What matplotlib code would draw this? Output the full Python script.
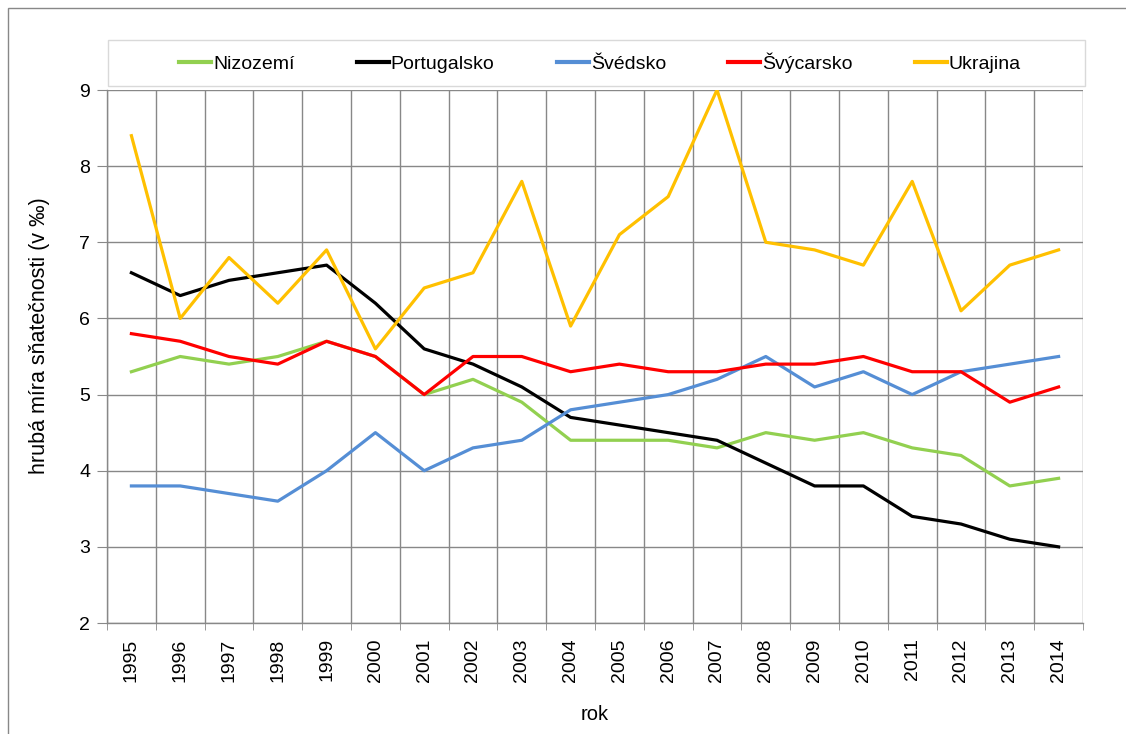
import numpy as np
import matplotlib
matplotlib.use('Agg')
import matplotlib.pyplot as plt
from matplotlib.patches import Rectangle

years = [str(y) for y in range(1995, 2015)]

nizozemi = [5.3, 5.5, 5.4, 5.5, 5.7, 5.5, 5.0, 5.2, 4.9, 4.4,
            4.4, 4.4, 4.3, 4.5, 4.4, 4.5, 4.3, 4.2, 3.8, 3.9]
portugalsko = [6.6, 6.3, 6.5, 6.6, 6.7, 6.2, 5.6, 5.4, 5.1, 4.7,
               4.6, 4.5, 4.4, 4.1, 3.8, 3.8, 3.4, 3.3, 3.1, 3.0]
svedsko = [3.8, 3.8, 3.7, 3.6, 4.0, 4.5, 4.0, 4.3, 4.4, 4.8,
           4.9, 5.0, 5.2, 5.5, 5.1, 5.3, 5.0, 5.3, 5.4, 5.5]
svycarsko = [5.8, 5.7, 5.5, 5.4, 5.7, 5.5, 5.0, 5.5, 5.5, 5.3,
             5.4, 5.3, 5.3, 5.4, 5.4, 5.5, 5.3, 5.3, 4.9, 5.1]
ukrajina = [8.4, 6.0, 6.8, 6.2, 6.9, 5.6, 6.4, 6.6, 7.8, 5.9,
            7.1, 7.6, 9.0, 7.0, 6.9, 6.7, 7.8, 6.1, 6.7, 6.9]

series = [
    ('Nizozemí', nizozemi, '#92d050'),
    ('Portugalsko', portugalsko, '#000000'),
    ('Švédsko', svedsko, '#558ed5'),
    ('Švýcarsko', svycarsko, '#ff0000'),
    ('Ukrajina', ukrajina, '#ffc000'),
]

plt.rcParams['font.family'] = ['Liberation Sans', 'DejaVu Sans']

W, H = 1126, 734
fig = plt.figure(figsize=(W / 100, H / 100), dpi=100)
ax = fig.add_axes([107 / W, 1 - 623 / H, (1083 - 107) / W, (623 - 90) / H])

# outer chart border
fig.patches.append(Rectangle((8 / W, -0.1), 1.2, 1.1 - 8 / H,
                             transform=fig.transFigure, fill=False,
                             edgecolor='#888888', linewidth=1.0))

x = np.arange(len(years))
for name, vals, col in series:
    ax.plot(x, vals, color=col, linewidth=2.3, label=name)

ax.set_xlim(-0.5, len(years) - 0.5)
ax.set_ylim(2, 9)
ax.set_yticks(range(2, 10))
ax.set_xticks(x)
ax.set_xticklabels(years, rotation=90, fontsize=14)
ax.set_xticks(np.arange(-0.5, len(years), 1), minor=True)
ax.tick_params(axis='x', which='major', length=0, pad=11)
ax.tick_params(axis='x', which='minor', length=5, color='#888888')
ax.tick_params(axis='y', length=7, color='#888888', labelsize=14, pad=5)

ax.grid(True, axis='y', color='#888888', linewidth=1.0)
ax.grid(True, axis='x', which='minor', color='#888888', linewidth=1.0)
ax.set_axisbelow(True)
for s in ['top', 'right']:
    ax.spines[s].set_visible(False)
for s in ['left', 'bottom']:
    ax.spines[s].set_color('#888888')
    ax.spines[s].set_linewidth(1.0)

ax.set_xlabel('rok', fontsize=14.5)
ax.xaxis.set_label_coords(0.5, -(714 - 623) / (623 - 90))
ax.xaxis.label.set_va('center')
ax.set_ylabel('hrubá míra sňatečnosti (v ‰)', fontsize=15.5)
ax.yaxis.set_label_coords(-(107 - 40) / (1083 - 107), (623 - 336) / (623 - 90))
ax.yaxis.label.set_va('center')

# legend box
fig.patches.append(Rectangle((108 / W, 1 - 86 / H), (1085 - 108) / W, 46 / H,
                             transform=fig.transFigure, fill=False,
                             edgecolor='#d9d9d9', linewidth=1.0))
leg = fig.legend(loc='center', bbox_to_anchor=(600 / W, 1 - 63 / H),
                 ncol=5, fontsize=14, frameon=False,
                 handlelength=1.65, handletextpad=0.1, columnspacing=3.2,
                 borderaxespad=0.0)
for h in leg.get_lines():
    h.set_linewidth(3.0)

fig.savefig('out.png', dpi=100)
